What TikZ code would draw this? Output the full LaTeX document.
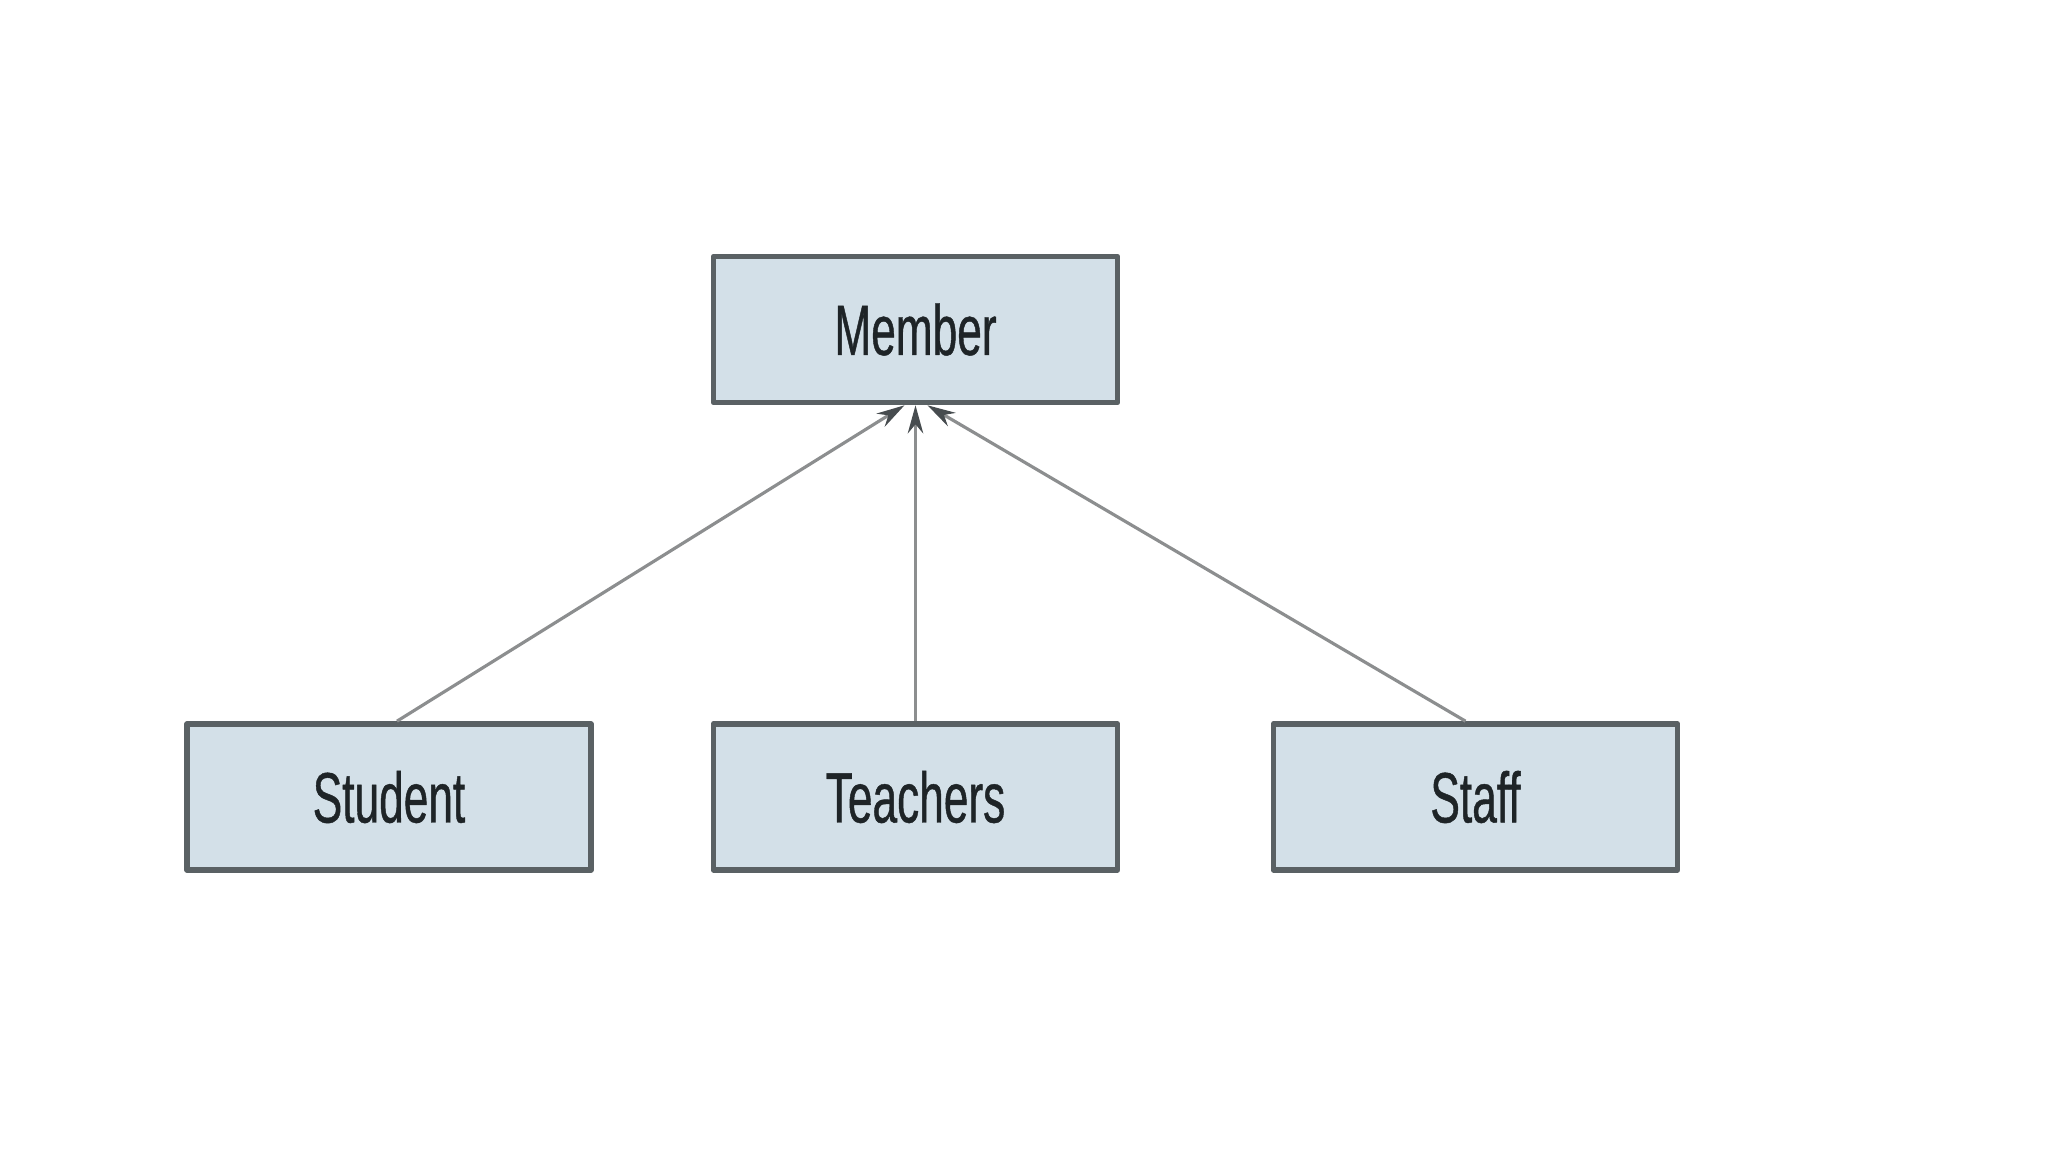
\documentclass[tikz,border=0pt]{standalone}
\usepackage{fontspec}
\setmainfont[FakeStretch=0.62, FakeBold=0.6]{Liberation Sans}
\usetikzlibrary{arrows.meta}
\definecolor{boxfill}{HTML}{D3E0E8}
\definecolor{boxline}{HTML}{5A6164}
\definecolor{linkgray}{HTML}{8C8E8F}
\definecolor{headgray}{HTML}{474C4F}
\definecolor{txt}{HTML}{1E2427}
\begin{document}
\begin{tikzpicture}[>={Stealth[length=8pt,width=4.4pt,color=headgray]}, font=\fontsize{20.3}{24}\selectfont, line join=round,
	cls/.style={draw=boxline, fill=boxfill, line width=1.6pt, minimum width=4.04cm, minimum height=1.46cm, text=txt, inner sep=0pt},
	link/.style={->, draw=linkgray, line width=0.9pt}]
	\def\ytop{8.225} \def\ybot{3.55} % Hàng
	\useasboundingbox (0,0) rectangle (20.48,11.52);
	\node[cls] (mem) at (9.155,\ytop) {Member};
	\node[cls] (stu) at (3.89,\ybot) {Student};
	\node[cls] (tea) at (9.155,\ybot) {Teachers};
	\node[cls] (sta) at (14.755,\ybot) {Staff};
	\draw[link] ([xshift=0.08cm]stu.north) -- ([xshift=-0.11cm]mem.south);
	\draw[link] (tea.north) -- (mem.south);
	\draw[link] ([xshift=-0.1cm]sta.north) -- ([xshift=0.12cm]mem.south);
\end{tikzpicture}
\end{document}
